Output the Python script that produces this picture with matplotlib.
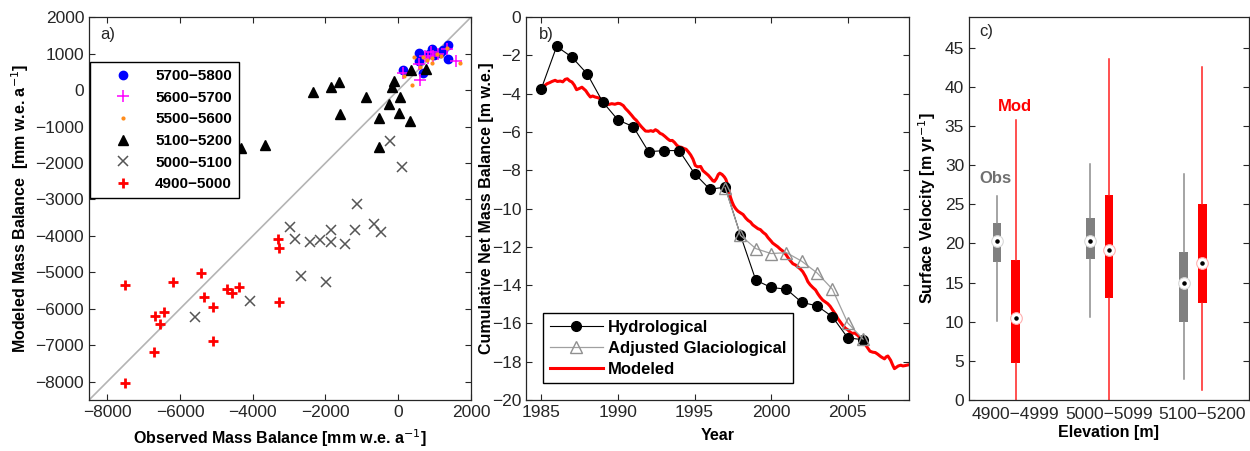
import matplotlib.pyplot as plt

plt.rcParams['font.family'] = ['Liberation Sans', 'DejaVu Sans']
plt.rcParams['axes.unicode_minus'] = True

# ---- a) modeled vs observed mass balance, grouped by elevation band ----
band_labels = ['5700\u22125800', '5600\u22125700', '5500\u22125600',
               '5100\u22125200', '5000\u22125100', '4900\u22125000']

obs_5700 = [137, 568, 568, 687, 917, 843, 981, 1146, 1237, 1375, 1375]
mod_5700 = [545, 1027, 800, 473, 1136, 1000, 955, 1027, 1091, 1227, 864]

obs_5600 = [137, 596, 1577, 568, 733, 889, 962, 825, 1100, 1329]
mod_5600 = [455, 273, 800, 727, 927, 1045, 927, 891, 1000, 1136]

obs_5500 = [440, 156, 385, 1696, 779, 917, 935, 1054, 1329, 687, 596, 1164]
mod_5500 = [909, 382, 136, 745, 818, 745, 891, 1000, 1164, 909, 636, 936]

obs_5100 = [-4335, -3657, -2337, -1842, -1641, -1604, -898, -541, -522,
            -257, -174, -128, 27, 55, 312, 357, 761]
mod_5100 = [-1591, -1500, -64, 73, 227, -655, -182, -773, -1564,
            -382, 91, 245, -636, -182, -836, 564, 591]

obs_5000 = [-5582, -4070, -2979, -2832, -2686, -2429, -2154, -1861, -1842,
            -1998, -1457, -1201, -1127, -660, -467, -238, 101]
mod_5000 = [-6236, -5782, -3764, -4091, -5109, -4155, -4109, -3845, -4155,
            -5255, -4218, -3827, -3118, -3664, -3900, -1391, -2100]

obs_4900 = [-7507, -7516, -6682, -6709, -6544, -6425, -6196, -5417, -5334,
            -5105, -5078, -4720, -4564, -4372, -3309, -3272, -3272]
mod_4900 = [-5345, -8045, -6182, -7182, -6409, -6073, -5255, -5018, -5682,
            -6873, -5955, -5455, -5564, -5400, -4091, -4318, -5818]

mb_limits = [-8500, 2000]

# ---- b) cumulative net mass balance ----
hydro_years = list(range(1985, 2007))
hydro_cum = [-3.74, -1.53, -2.09, -2.97, -4.42, -5.37, -5.72, -7.03, -6.97,
             -6.97, -8.17, -8.99, -8.88, -11.39, -13.74, -14.12, -14.21,
             -14.90, -15.08, -15.65, -16.75, -16.85]

glacio_years = list(range(1997, 2007))
glacio_cum = [-8.90, -11.40, -12.09, -12.35, -12.30, -12.75, -13.36, -14.21,
              -15.97, -16.82]

model_years = [
    1985.00, 1985.15, 1985.37, 1985.55, 1985.70, 1985.90, 1986.05, 1986.24,
    1986.40, 1986.56, 1986.70, 1986.85, 1987.00, 1987.15, 1987.30, 1987.50,
    1987.65, 1987.90, 1988.05, 1988.20, 1988.35, 1988.50, 1988.70, 1988.85,
    1989.10, 1989.25, 1989.40, 1989.60, 1989.80, 1990.00, 1990.15, 1990.35,
    1990.50, 1990.65, 1990.90, 1991.05, 1991.20, 1991.40, 1991.55, 1991.80,
    1992.00, 1992.15, 1992.30, 1992.45, 1992.60, 1992.75, 1992.90, 1993.07,
    1993.25, 1993.40, 1993.55, 1993.70, 1993.85, 1994.00, 1994.15, 1994.30,
    1994.45, 1994.60, 1994.75, 1994.90, 1995.05, 1995.20, 1995.40, 1995.55,
    1995.70, 1995.90, 1996.05, 1996.20, 1996.30, 1996.43, 1996.55, 1996.65,
    1996.80, 1996.95, 1997.05, 1997.20, 1997.34, 1997.45, 1997.56, 1997.70,
    1997.84, 1998.00, 1998.17, 1998.35, 1998.50, 1998.65, 1998.80, 1999.00,
    1999.14, 1999.30, 1999.47, 1999.65, 1999.80, 2000.00, 2000.10, 2000.30,
    2000.44, 2000.60, 2000.77, 2000.95, 2001.10, 2001.25, 2001.42, 2001.60,
    2001.75, 2001.90, 2002.07, 2002.25, 2002.40, 2002.55, 2002.72, 2002.90,
    2003.05, 2003.20, 2003.37, 2003.55, 2003.70, 2003.85, 2004.02, 2004.20,
    2004.35, 2004.50, 2004.67, 2004.85, 2005.00, 2005.15, 2005.30, 2005.45,
    2005.65, 2005.80, 2005.98, 2006.15, 2006.30, 2006.45, 2006.63, 2006.80,
    2006.95, 2007.17, 2007.40, 2007.50, 2007.62, 2007.80, 2007.95, 2008.05,
    2008.20, 2008.30, 2008.47, 2008.60, 2008.75, 2008.97]
model_cum = [
    -3.79, -3.62, -3.48, -3.42, -3.36, -3.30, -3.36, -3.34,
    -3.38, -3.25, -3.22, -3.33, -3.39, -3.55, -3.79, -3.72,
    -3.66, -3.84, -4.02, -4.17, -4.12, -4.17, -4.21, -4.27,
    -4.35, -4.48, -4.56, -4.52, -4.55, -4.50, -4.52, -4.62,
    -4.78, -4.90, -5.13, -5.28, -5.39, -5.60, -5.74, -5.95,
    -5.96, -5.93, -5.97, -5.88, -5.95, -6.07, -6.12, -6.23,
    -6.36, -6.45, -6.44, -6.55, -6.70, -6.78, -6.80, -6.86,
    -6.90, -7.04, -7.20, -7.42, -7.75, -7.82, -7.80, -8.02,
    -8.12, -8.26, -8.40, -8.55, -8.58, -8.43, -8.22, -8.15,
    -8.22, -8.35, -8.48, -8.87, -9.39, -9.65, -9.85, -10.02,
    -10.14, -10.22, -10.31, -10.50, -10.62, -10.70, -10.85, -10.97,
    -11.05, -11.10, -11.24, -11.35, -11.52, -11.70, -11.80, -11.92,
    -12.00, -12.12, -12.22, -12.38, -12.56, -12.72, -12.88, -12.95,
    -13.05, -13.15, -13.30, -13.55, -13.82, -13.98, -14.12, -14.25,
    -14.45, -14.62, -14.78, -14.88, -14.97, -15.10, -15.30, -15.52,
    -15.74, -15.90, -16.09, -16.25, -16.33, -16.45, -16.52, -16.50,
    -16.62, -16.75, -16.90, -17.10, -17.28, -17.45, -17.50, -17.52,
    -17.60, -17.74, -17.85, -17.75, -17.70, -17.92, -18.20, -18.36,
    -18.28, -18.22, -18.18, -18.22, -18.20, -18.16]

# ---- c) surface velocity box statistics ----
elev_bands = ['4900\u22124999', '5000\u22125099', '5100\u22125200']
obs_whislo = [10.1, 10.6, 2.7]
obs_q1 = [17.6, 17.95, 10.0]
obs_med = [20.35, 20.3, 14.95]
obs_q3 = [22.6, 23.25, 18.85]
obs_whishi = [26.1, 30.1, 28.9]

mod_whislo = [0.0, 0.0, 1.3]
mod_q1 = [4.75, 13.0, 12.35]
mod_med = [10.5, 19.15, 17.5]
mod_q3 = [17.9, 26.2, 25.0]
mod_whishi = [35.7, 43.6, 42.5]

ink = '#262626'
label_kw = dict(fontsize=11.5, fontweight='bold')
fig = plt.figure(figsize=(12.5, 4.51), dpi=100)
ax1 = fig.add_axes([0.0712, 0.113, 0.3056, 0.849])
ax2 = fig.add_axes([0.4208, 0.113, 0.3064, 0.849])
ax3 = fig.add_axes([0.7752, 0.113, 0.224, 0.849])

for ax in (ax1, ax2, ax3):
    ax.tick_params(direction='in', top=True, right=True, length=4,
                   width=0.8, labelsize=12.5, colors=ink)
    for sp in ax.spines.values():
        sp.set_color(ink)
        sp.set_linewidth(0.9)

# panel a
ax1.plot(mb_limits, mb_limits, color='#b4b4b4', lw=1.2, zorder=1)
ax1.plot(obs_5700, mod_5700, 'o', color='#0000ff', ms=6, label=band_labels[0])
ax1.plot(obs_5600, mod_5600, '+', color='#ff00ff', ms=8, mew=1.1,
         label=band_labels[1])
ax1.plot(obs_5500, mod_5500, '.', color='#ff8c1a', ms=4, label=band_labels[2])
ax1.plot(obs_5100, mod_5100, '^', color='black', ms=6.5, label=band_labels[3])
ax1.plot(obs_5000, mod_5000, 'x', color='#555555', ms=7, mew=1.1,
         label=band_labels[4])
ax1.plot(obs_4900, mod_4900, '+', color='#ff0000', ms=7, mew=2,
         label=band_labels[5])
ax1.set_xlim(mb_limits)
ax1.set_ylim(mb_limits)
ax1.set_xticks(range(-8000, 2001, 2000))
ax1.set_yticks(range(-8000, 2001, 1000))
ax1.set_xlabel('Observed Mass Balance [mm w.e. a$^{-1}$]', **label_kw)
ax1.xaxis.set_label_coords(0.5, -0.072)
ax1.set_ylabel('Modeled Mass Balance  [mm w.e. a$^{-1}$]', **label_kw)
ax1.yaxis.set_label_coords(-0.152, 0.5)
ax1.text(0.03, 0.955, 'a)', transform=ax1.transAxes, fontsize=12,
         va='center', color=ink)
leg1 = ax1.legend(loc='upper left', bbox_to_anchor=(0.003, 0.882),
                  fancybox=False, edgecolor='black', framealpha=1,
                  prop={'weight': 'bold', 'size': 11}, handlelength=3.4,
                  handletextpad=0.4, labelspacing=0.5, borderpad=0.45,
                  borderaxespad=0)
leg1.get_frame().set_linewidth(1.0)

# panel b
ax2.plot(hydro_years, hydro_cum, '-o', color='black', lw=0.8, ms=7,
         label='Hydrological', zorder=3)
ax2.plot(glacio_years, glacio_cum, '-^', color='#a0a0a0', lw=0.9, ms=8,
         mfc='none', mec='#909090', label='Adjusted Glaciological', zorder=4)
ax2.plot(model_years, model_cum, color='#ff0000', lw=2.2, label='Modeled',
         zorder=2)
ax2.set_xlim(1984, 2009)
ax2.set_ylim(-20, 0)
ax2.set_xticks(range(1985, 2006, 5))
ax2.set_yticks(range(-20, 1, 2))
ax2.set_xlabel('Year', **label_kw)
ax2.xaxis.set_label_coords(0.5, -0.072)
ax2.set_ylabel('Cumulative Net Mass Balance [m w.e.]', **label_kw)
ax2.yaxis.set_label_coords(-0.083, 0.5)
ax2.text(0.034, 0.955, 'b)', transform=ax2.transAxes, fontsize=12,
         va='center', color=ink)
leg2 = ax2.legend(loc='lower left', bbox_to_anchor=(0.044, 0.044),
                  fancybox=False, edgecolor='black', framealpha=1,
                  prop={'weight': 'bold', 'size': 12}, handlelength=3.2,
                  handletextpad=0.3, labelspacing=0.35, borderpad=0.4,
                  borderaxespad=0)
leg2.get_frame().set_linewidth(1.0)

# panel c
group_pos = [1, 2, 3]
obs_pos = [p - 0.2 for p in group_pos]
obs_stats = [dict(whislo=lo, q1=a, med=m, q3=b, whishi=hi, fliers=[])
             for lo, a, m, b, hi in zip(obs_whislo, obs_q1, obs_med, obs_q3,
                                        obs_whishi)]
mod_stats = [dict(whislo=lo, q1=a, med=m, q3=b, whishi=hi, fliers=[])
             for lo, a, m, b, hi in zip(mod_whislo, mod_q1, mod_med, mod_q3,
                                        mod_whishi)]
for stats, pos, col, wcol in ((obs_stats, obs_pos, '#808080', '#8c8c8c'),
                              (mod_stats, group_pos, '#ff0000', '#ff2020')):
    ax3.bxp(stats, positions=pos, widths=0.09, patch_artist=True,
            showcaps=False, showfliers=False, manage_ticks=False,
            boxprops=dict(facecolor=col, edgecolor='none'),
            whiskerprops=dict(color=wcol, lw=1.1),
            medianprops=dict(visible=False))
    ax3.scatter(pos, [s['med'] for s in stats], s=70, facecolor='white',
                edgecolor='#d8d8d8' if col == '#808080' else '#ffb0b0',
                lw=0.8, zorder=5)
    ax3.scatter(pos, [s['med'] for s in stats], s=5, color='black', zorder=6)
ax3.text(0.78, 28.3, 'Obs', color='#707070', fontsize=12, fontweight='bold',
         ha='center', va='center')
ax3.text(0.99, 37.5, 'Mod', color='#ff0000', fontsize=12, fontweight='bold',
         ha='center', va='center')
ax3.set_xlim(0.5, 3.5)
ax3.set_ylim(0, 48.9)
ax3.set_yticks(range(0, 46, 5))
ax3.set_xticks(group_pos)
ax3.set_xticklabels(elev_bands)
ax3.tick_params(axis='x', length=0, pad=5)
ax3.set_xlabel('Elevation [m]', **label_kw)
ax3.xaxis.set_label_coords(0.5, -0.066)
ax3.set_ylabel('Surface Velocity [m yr$^{-1}$]', **label_kw)
ax3.yaxis.set_label_coords(-0.11, 0.5)
ax3.text(0.036, 0.962, 'c)', transform=ax3.transAxes, fontsize=12,
         va='center', color=ink)

fig.savefig('out.png', dpi=100)
